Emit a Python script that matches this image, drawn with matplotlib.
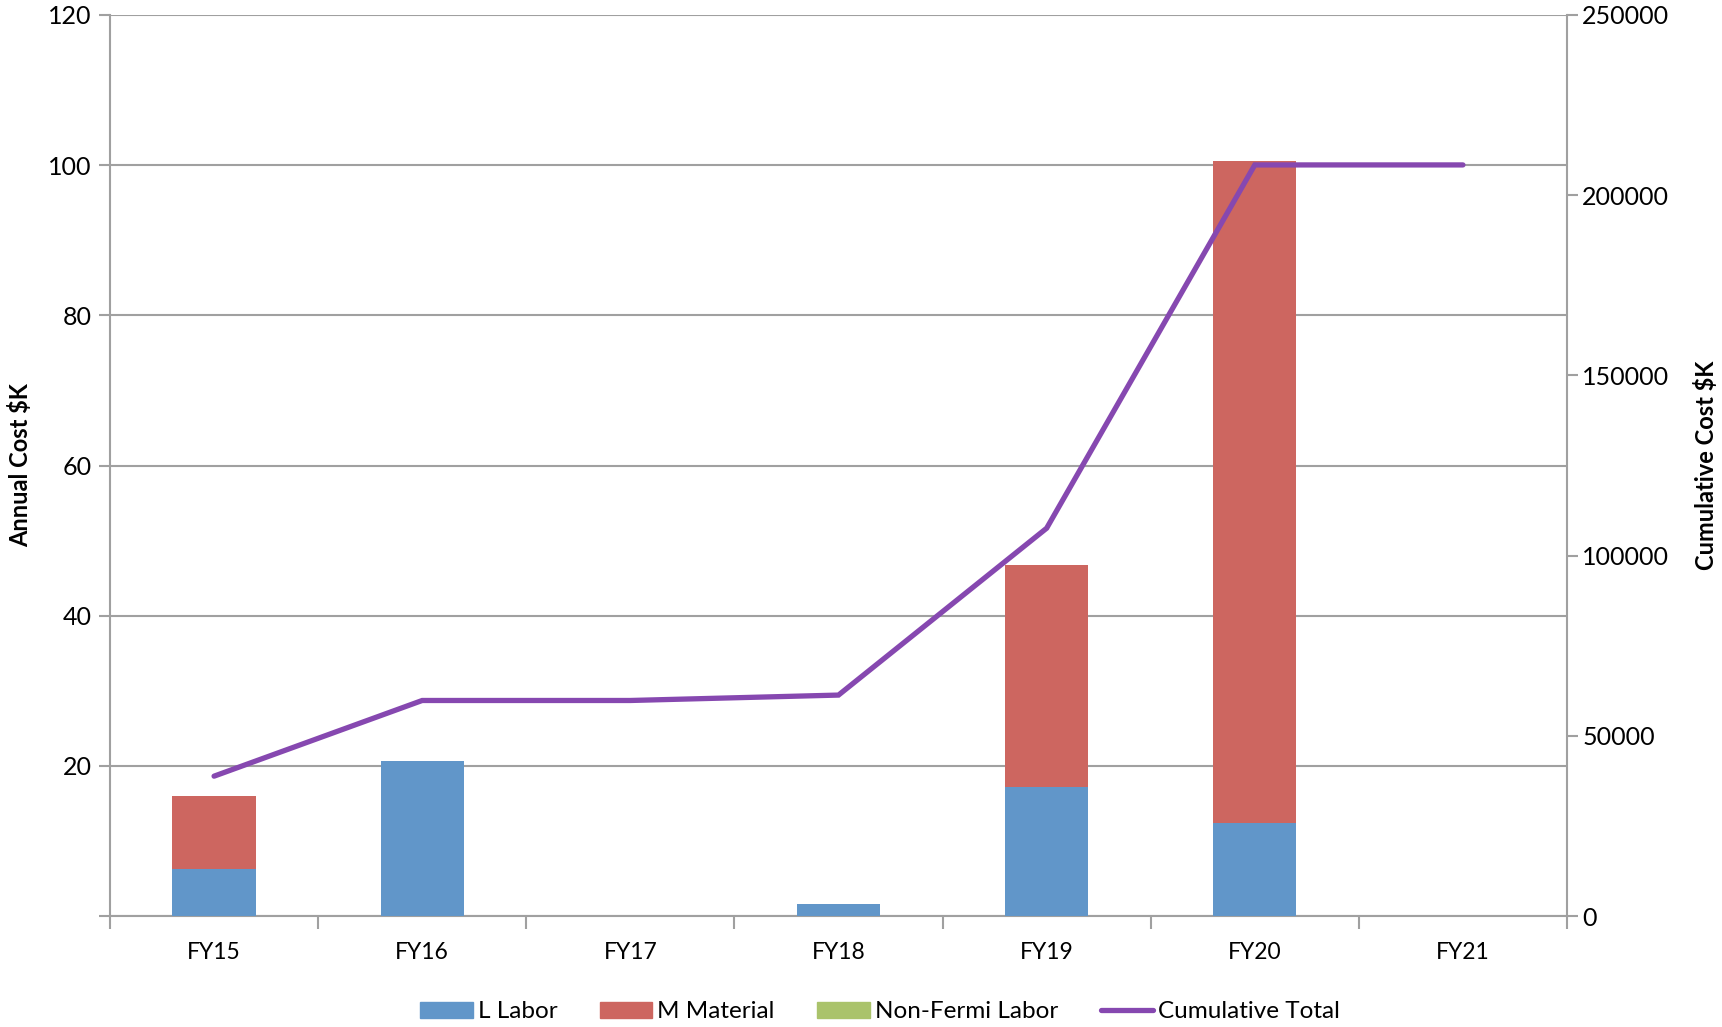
import numpy as np
import matplotlib.pyplot as plt
from matplotlib.lines import Line2D
from matplotlib.patches import Patch

plt.rcParams['font.family'] = ['Lato', 'DejaVu Sans']

years = ["FY15", "FY16", "FY17", "FY18", "FY19", "FY20", "FY21"]
labor = [6.3, 20.6, 0, 1.6, 17.2, 12.4, 0]
material = [9.7, 0, 0, 0, 29.5, 88.1, 0]
non_fermi = [0, 0, 0, 0, 0, 0, 0]
cumulative = [38800, 59800, 59800, 61300, 107600, 208400, 208400]

c_labor = '#6196C9'
c_mat = '#CD6660'
c_nf = '#AAC36B'
c_cum = '#8648B0'
c_axis = '#A0A0A0'

fig = plt.figure(figsize=(17.22, 10.27), dpi=100)
ax = fig.add_axes([110 / 1722, 1 - 916 / 1027, 1457 / 1722, 901 / 1027])

x = np.arange(len(years))
w = 0.4
lab = np.array(labor)
mat = np.array(material)
nf = np.array(non_fermi)
ax.bar(x, lab, w, color=c_labor, zorder=3)
ax.bar(x, mat, w, bottom=lab, color=c_mat, zorder=3)
ax.bar(x, nf, w, bottom=lab + mat, color=c_nf, zorder=3)

ax.set_xlim(-0.5, len(years) - 0.5)
ax.set_ylim(0, 120)
ax.set_yticks(np.arange(0, 121, 20))
ax.set_yticklabels(['', '20', '40', '60', '80', '100', '120'])
ax.yaxis.grid(True, color=c_axis, lw=1.5, zorder=0)
ax.set_xticks(x)
ax.set_xticklabels(years)
ax.set_xticks(np.arange(-0.5, len(years)), minor=True)
ax.tick_params(axis='x', which='major', length=0, pad=19, labelsize=16.5)
ax.tick_params(axis='x', which='minor', length=9, width=1.5, color=c_axis)
ax.tick_params(axis='y', length=8, width=1.5, color=c_axis, labelsize=18, pad=5)
for s in ['top', 'right']:
    ax.spines[s].set_visible(False)
for s in ['left', 'bottom']:
    ax.spines[s].set_color(c_axis)
    ax.spines[s].set_linewidth(1.5)
ax.set_ylabel('Annual Cost $K', fontsize=17, fontweight='bold')
ax.yaxis.set_label_coords(-(110 - 32) / 1457, 0.5)

ax2 = ax.twinx()
ax2.plot(x, cumulative, color=c_cum, lw=3.8, solid_capstyle='round',
         solid_joinstyle='miter', zorder=4)
ax2.set_ylim(0, 250000)
ax2.set_yticks(np.arange(0, 250001, 50000))
ax2.tick_params(axis='y', length=8, width=1.5, color=c_axis, labelsize=18, pad=3)
for s in ['top', 'left', 'bottom']:
    ax2.spines[s].set_visible(False)
ax2.spines['right'].set_color(c_axis)
ax2.spines['right'].set_linewidth(1.5)
ax2.set_ylabel('Cumulative Cost $K', fontsize=17, fontweight='bold')
ax2.yaxis.set_label_coords((1694 - 110) / 1457, 0.5)

handles = [Patch(color=c_labor), Patch(color=c_mat), Patch(color=c_nf),
           Line2D([], [], color=c_cum, lw=3.8, solid_capstyle='round')]
labels = ['L Labor', 'M Material', 'Non-Fermi Labor', 'Cumulative Total']
fig.legend(handles, labels, loc='center', bbox_to_anchor=(880 / 1722, 1 - 1012 / 1027),
           ncol=4, frameon=False, fontsize=17.5, handlelength=2.17, handleheight=0.6,
           handletextpad=0.2, columnspacing=1.75)

fig.savefig('out.png', dpi=100)
